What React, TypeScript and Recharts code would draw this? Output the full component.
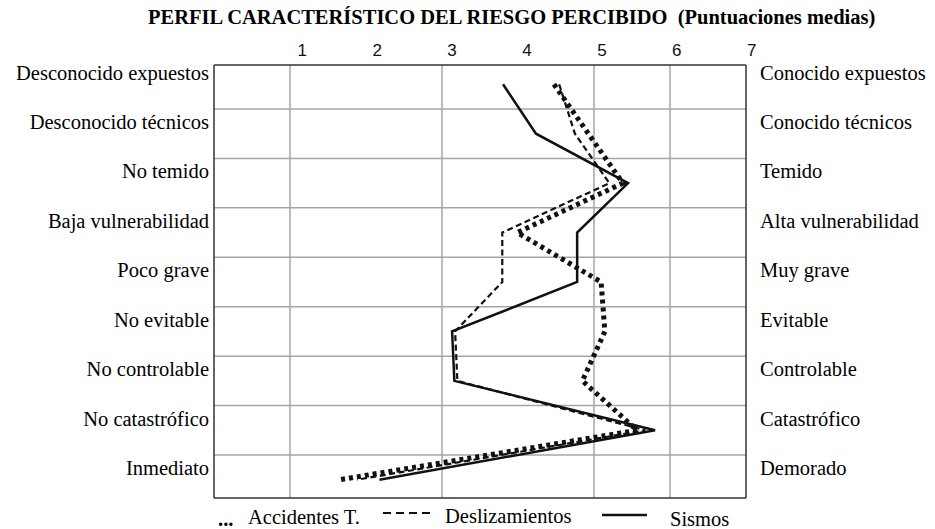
import React from 'react';
import { LineChart, Line, XAxis, YAxis, CartesianGrid, ReferenceLine } from 'recharts';

const leftLabels = [
  'Desconocido expuestos',
  'Desconocido técnicos',
  'No temido',
  'Baja vulnerabilidad',
  'Poco grave',
  'No evitable',
  'No controlable',
  'No catastrófico',
  'Inmediato',
];
const rightLabels = [
  'Conocido expuestos',
  'Conocido técnicos',
  'Temido',
  'Alta vulnerabilidad',
  'Muy grave',
  'Evitable',
  'Controlable',
  'Catastrófico',
  'Demorado',
];

const scoreTicks = [1, 2, 3, 4, 5, 6, 7];
const rowTicks = [1, 2, 3, 4, 5, 6, 7, 8, 9];
const gridRows = [1.5, 2.5, 3.5, 4.5, 5.5, 6.5, 7.5, 8.5];

// mean scores, one per row (top to bottom)
const accidentes = [4.36, 4.82, 5.28, 3.87, 4.99, 5.04, 4.74, 5.47, 1.5];
const deslizamientos = [4.43, 4.64, 5.1, 3.67, 3.67, 3.04, 3.07, 5.58, 1.73];
const sismos = [3.68, 4.12, 5.35, 4.67, 4.67, 3.0, 3.03, 5.71, 2.03];

const toRows = (values: number[]) => values.map((score, i) => ({ row: i + 1, score }));

const SCORE_DOMAIN: [number, number] = [-0.18, 6.925];
const ROW_DOMAIN: [number, number] = [0.61, 9.37];
// the drawn grid has 7 equal columns that do not sit on the printed 1..7 labels
const COLS = 7;
const colStep = (SCORE_DOMAIN[1] - SCORE_DOMAIN[0]) / COLS;
const gridCols = [1, 2, 3, 4, 5, 6].map((k) => SCORE_DOMAIN[0] + k * colStep);

const SERIF = '"Liberation Serif", "Times New Roman", serif';
const SANS = '"Liberation Sans", Arial, sans-serif';
const INK = '#111';
const BORDER = { stroke: '#333', strokeWidth: 1.5 };

export default function App() {
  return (
    <div style={{ position: 'absolute', left: 0, top: 0, width: 935, height: 529, background: '#fff' }}>
      <LineChart
        width={935}
        height={529}
        layout="vertical"
        margin={{ top: 30, right: 0, bottom: 31, left: 0 }}
      >
        <CartesianGrid
          xAxisId="score"
          yAxisId="left"
          horizontalValues={gridRows}
          verticalValues={gridCols}
          stroke="#a6a6a6"
          strokeWidth={1.5}
        />
        <XAxis
          xAxisId="score"
          type="number"
          orientation="top"
          domain={SCORE_DOMAIN}
          ticks={scoreTicks}
          allowDataOverflow
          height={35}
          axisLine={BORDER}
          tickLine={false}
          tickSize={0}
          tickMargin={9}
          tick={{ fill: INK, fontSize: 17, fontFamily: SANS }}
        />
        <YAxis
          yAxisId="left"
          type="number"
          dataKey="row"
          domain={ROW_DOMAIN}
          allowDataOverflow
          ticks={rowTicks}
          width={214}
          axisLine={BORDER}
          tickLine={false}
          tickSize={0}
          tickMargin={5}
          tickFormatter={(v: number) => leftLabels[v - 1]}
          tick={{ fill: '#000', fontSize: 20.5, fontFamily: SERIF, dy: -12 }}
        />
        <YAxis
          yAxisId="right"
          orientation="right"
          type="number"
          dataKey="row"
          domain={ROW_DOMAIN}
          allowDataOverflow
          ticks={rowTicks}
          width={189}
          axisLine={BORDER}
          tickLine={false}
          tickSize={0}
          tickMargin={14}
          tickFormatter={(v: number) => rightLabels[v - 1]}
          tick={{ fill: '#000', fontSize: 20.5, fontFamily: SERIF, dy: -12 }}
        />
        {/* bottom edge of the frame */}
        <ReferenceLine xAxisId="score" yAxisId="left" y={ROW_DOMAIN[1]} stroke="#333" strokeWidth={1.5} />
        <Line
          data={toRows(accidentes)}
          xAxisId="score"
          yAxisId="left"
          dataKey="score"
          name="Accidentes T."
          stroke={INK}
          strokeWidth={5}
          strokeDasharray="4 4"
          dot={false}
          isAnimationActive={false}
        />
        <Line
          data={toRows(deslizamientos)}
          xAxisId="score"
          yAxisId="left"
          dataKey="score"
          name="Deslizamientos"
          stroke={INK}
          strokeWidth={2.2}
          strokeDasharray="6 3.5"
          dot={false}
          isAnimationActive={false}
        />
        <Line
          data={toRows(sismos)}
          xAxisId="score"
          yAxisId="right"
          dataKey="score"
          name="Sismos"
          stroke={INK}
          strokeWidth={2.5}
          dot={false}
          isAnimationActive={false}
        />
      </LineChart>

      {/* title + hand-made legend */}
      <svg width={935} height={529} style={{ position: 'absolute', left: 0, top: 0, pointerEvents: 'none' }}>
        <text x={148} y={24} fontFamily={SERIF} fontSize={20.5} fontWeight="bold" fill="#000" xmlSpace="preserve">
          PERFIL CARACTERÍSTICO DEL RIESGO PERCIBIDO  (Puntuaciones medias)
        </text>
        <text x={218} y={526} fontFamily={SERIF} fontSize={20.5} fontWeight="bold" fill="#000">...</text>
        <text x={248} y={524} fontFamily={SERIF} fontSize={20.5} fill="#000">Accidentes T.</text>
        <line x1={383} y1={513} x2={430} y2={513} stroke={INK} strokeWidth={2} strokeDasharray="8 5" />
        <text x={445} y={523} fontFamily={SERIF} fontSize={20.5} fill="#000">Deslizamientos</text>
        <line x1={602} y1={515} x2={647} y2={515} stroke={INK} strokeWidth={2.5} />
        <text x={670} y={526} fontFamily={SERIF} fontSize={20.5} fill="#000">Sismos</text>
      </svg>
    </div>
  );
}
